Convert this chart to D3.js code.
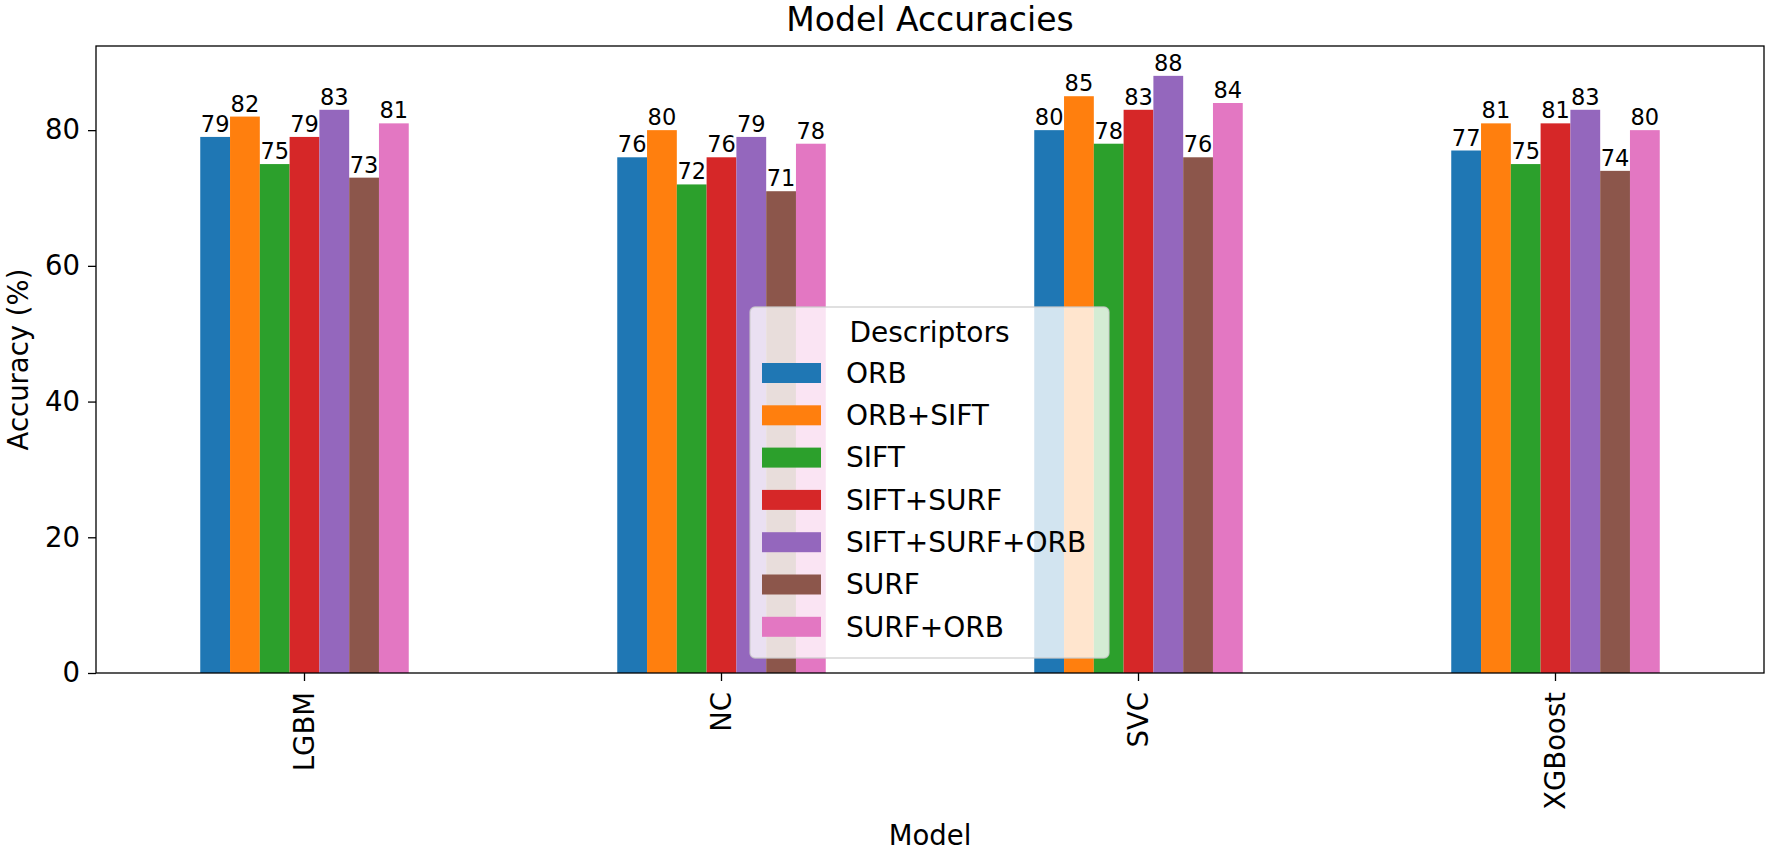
<!DOCTYPE html>
<html>
<head>
<meta charset="utf-8">
<script src="https://cdn.jsdelivr.net/npm/d3@7"></script>
<style>
  body { margin: 0; background: #fff; }
  svg { display: block; font-family: 'DejaVu Sans', sans-serif; }
</style>
</head>
<body>
<svg></svg>
<script>
// data

var models = ['LGBM', 'NC', 'SVC', 'XGBoost']
var descriptors = ['ORB', 'ORB+SIFT', 'SIFT', 'SIFT+SURF', 'SIFT+SURF+ORB', 'SURF', 'SURF+ORB']

var orb = [79, 76, 80, 77]
var orbSift = [82, 80, 85, 81]
var sift = [75, 72, 78, 75]
var siftSurf = [79, 76, 83, 81]
var siftSurfOrb = [83, 79, 88, 83]
var surf = [73, 71, 76, 74]
var surfOrb = [81, 78, 84, 80]

var yTicks = [0, 20, 40, 60, 80]

var colors = ['#1f77b4', '#ff7f0e', '#2ca02c', '#d62728', '#9467bd', '#8c564b', '#e377c2']

// -----------------

var w = 1770
var h = 852
var margin = { top: 46, right: 6, bottom: 179, left: 96 }

var series = [orb, orbSift, sift, siftSurf, siftSurfOrb, surf, surfOrb]

var svg = d3.select('svg')
    .attr('width', w)
    .attr('height', h)

var pw = w - margin.left - margin.right
var ph = h - margin.top - margin.bottom

var g = svg.append('g')
    .attr('transform', 'translate(' + margin.left + ',' + margin.top + ')')

var x0 = d3.scaleBand()
    .domain(models)
    .range([0, pw])
    .paddingInner(0.5)
    .paddingOuter(0.25)

var x1 = d3.scaleBand()
    .domain(descriptors)
    .range([0, x0.bandwidth()])

var yMax = d3.max(series, function (s) { return d3.max(s) }) * 1.05
var y = d3.scaleLinear()
    .domain([0, yMax])
    .range([ph, 0])

// bars
var groups = g.selectAll('g.group')
    .data(models)
    .enter()
    .append('g')
    .attr('class', 'group')
    .attr('transform', function (d) { return 'translate(' + x0(d) + ',0)' })

groups.selectAll('rect')
    .data(function (d, i) {
      return descriptors.map(function (name, j) {
        return { name: name, value: series[j][i], k: j }
      })
    })
    .enter()
    .append('rect')
    .attr('x', function (d) { return x1(d.name) })
    .attr('y', function (d) { return y(d.value) })
    .attr('width', x1.bandwidth())
    .attr('height', function (d) { return ph - y(d.value) })
    .attr('fill', function (d) { return colors[d.k] })

groups.selectAll('text.val')
    .data(function (d, i) {
      return descriptors.map(function (name, j) {
        return { name: name, value: series[j][i] }
      })
    })
    .enter()
    .append('text')
    .attr('class', 'val')
    .attr('x', function (d) { return x1(d.name) + x1.bandwidth() / 2 })
    .attr('y', function (d) { return y(d.value) - 5 })
    .attr('text-anchor', 'middle')
    .style('font-size', '22.5px')
    .style('fill', '#000')
    .text(function (d) { return d.value })

// axes
g.append('g')
    .call(d3.axisLeft(y).tickValues(yTicks).tickSize(8).tickPadding(8))

var xAxis = g.append('g')
    .attr('transform', 'translate(0,' + ph + ')')
    .call(d3.axisBottom(x0).tickSize(8).tickSizeOuter(0))

xAxis.selectAll('text')
    .attr('transform', 'rotate(-90)')
    .attr('text-anchor', 'end')
    .attr('x', -19)
    .attr('y', 0)
    .attr('dy', '0.35em')

g.selectAll('.domain').remove()
g.selectAll('.tick line').attr('stroke', '#000').attr('stroke-width', 1.3)
g.selectAll('.tick text')
    .style('font-size', '27.5px')
    .style('font-family', 'DejaVu Sans')
    .attr('fill', '#000')

// frame
g.append('rect')
    .attr('width', pw)
    .attr('height', ph)
    .attr('fill', 'none')
    .attr('stroke', '#000')
    .attr('stroke-width', 1.3)

// titles
svg.append('text')
    .attr('x', margin.left + pw / 2)
    .attr('y', 31)
    .attr('text-anchor', 'middle')
    .style('font-size', '33px')
    .text('Model Accuracies')

svg.append('text')
    .attr('x', margin.left + pw / 2)
    .attr('y', 845)
    .attr('text-anchor', 'middle')
    .style('font-size', '27.5px')
    .text('Model')

svg.append('text')
    .attr('transform', 'translate(28,' + (margin.top + ph / 2) + ') rotate(-90)')
    .attr('text-anchor', 'middle')
    .style('font-size', '27.5px')
    .text('Accuracy (%)')

// legend
var lg = svg.append('g')
    .attr('transform', 'translate(750,307)')

lg.append('rect')
    .attr('width', 359)
    .attr('height', 351)
    .attr('rx', 5)
    .attr('fill', '#fff')
    .attr('fill-opacity', 0.8)
    .attr('stroke', '#cccccc')
    .attr('stroke-opacity', 0.8)
    .attr('stroke-width', 1.3)

lg.append('text')
    .attr('x', 179.5)
    .attr('y', 25)
    .attr('dy', '0.35em')
    .attr('text-anchor', 'middle')
    .style('font-size', '28px')
    .text('Descriptors')

var items = lg.selectAll('g.item')
    .data(descriptors)
    .enter()
    .append('g')
    .attr('class', 'item')
    .attr('transform', function (d, i) { return 'translate(0,' + (66 + i * 42.3) + ')' })

items.append('rect')
    .attr('x', 12)
    .attr('y', -10)
    .attr('width', 59)
    .attr('height', 20)
    .attr('fill', function (d, i) { return colors[i] })

items.append('text')
    .attr('x', 96)
    .attr('dy', '0.35em')
    .style('font-size', '28px')
    .text(function (d) { return d })
</script>
</body>
</html>
